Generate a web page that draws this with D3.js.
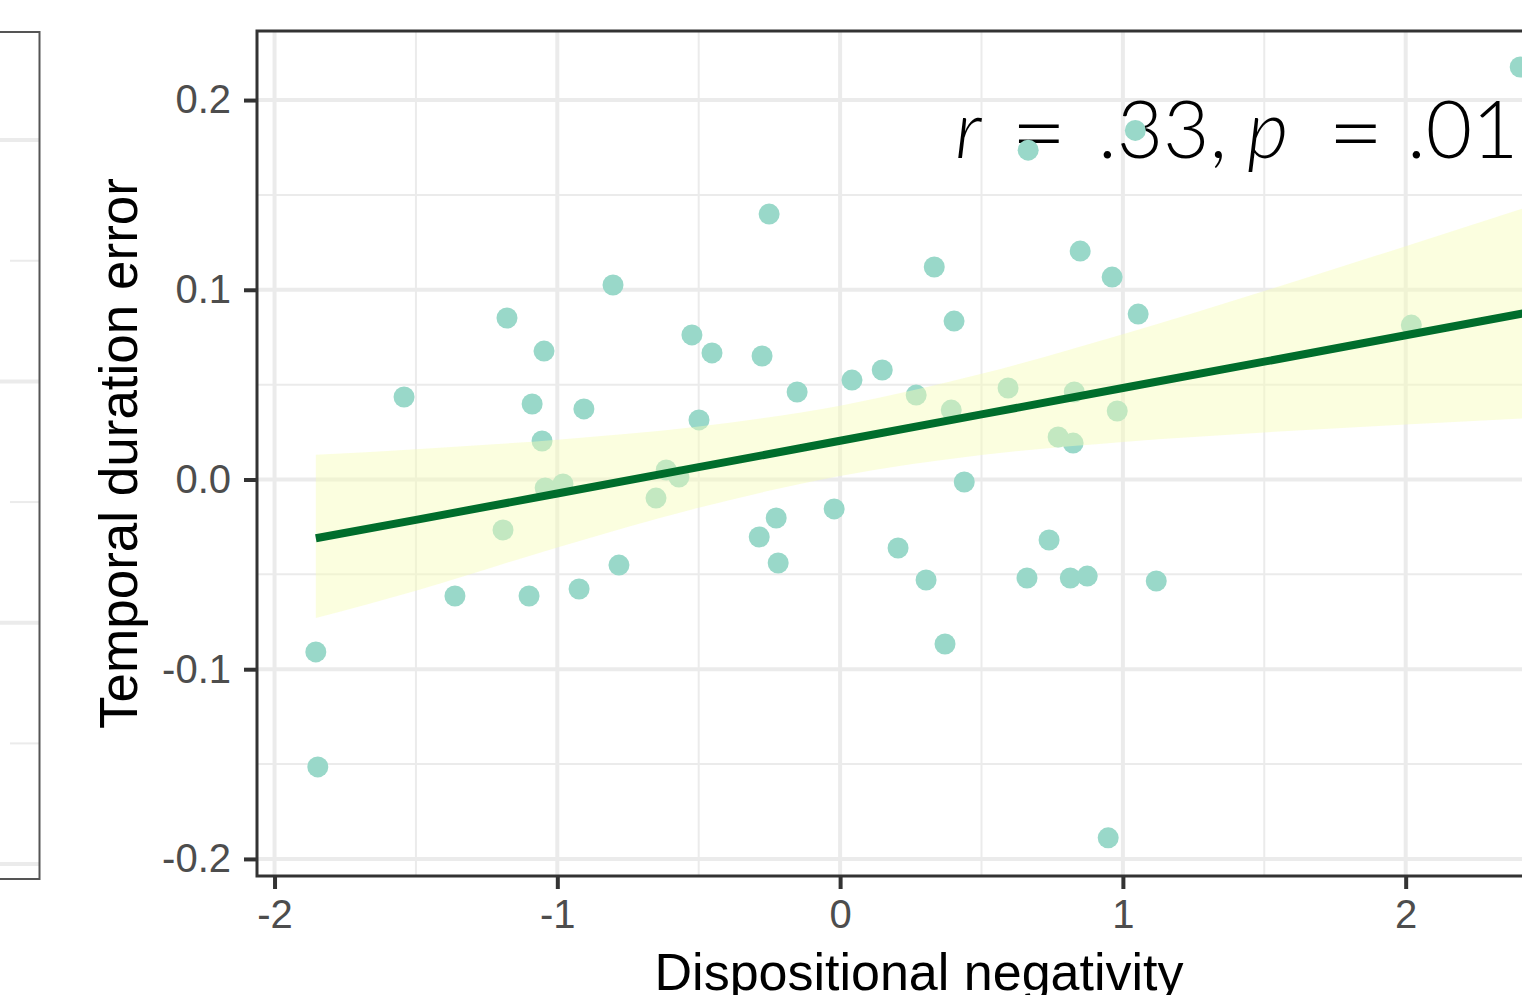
<!DOCTYPE html>
<html>
<head>
<meta charset="utf-8">
<script src="https://cdn.jsdelivr.net/npm/d3@7"></script>
<style>
  body { margin: 0; overflow: hidden; background: #fff; }
  svg { display: block; }
</style>
</head>
<body>
<div id="chart"></div>
<script>
// scatter data: dispositional negativity (x) vs temporal duration error (y)
const negX = [2.405, 0.665, 1.044, -0.251, 0.333, 0.849, 0.962, -0.803, -1.178, 0.403,
  1.054, 2.02, -1.047, -0.524, -0.453, -0.276, -1.542, -1.089, -0.906, -0.152,
  0.042, 0.149, -0.499, -1.054, 0.269, 0.393, 0.594, 0.828, 0.98, 0.771,
  0.824, -1.043, -0.98, -0.615, -0.57, -0.651, -1.192, -0.021, 0.439, -0.226,
  -0.286, -0.219, -0.782, 0.205, 0.739, 0.304, 0.661, 0.814, 0.874, 1.118,
  -1.362, -1.1, -0.923, 0.371, -1.854, -1.847, 0.948];
const errY = [0.2174, 0.1736, 0.184, 0.1399, 0.112, 0.1204, 0.1067, 0.1025, 0.0851, 0.0835,
  0.0872, 0.0814, 0.0677, 0.0762, 0.0667, 0.0651, 0.0435, 0.0398, 0.0372, 0.0461,
  0.0524, 0.0577, 0.0314, 0.0203, 0.0445, 0.0366, 0.0482, 0.0461, 0.0361, 0.0224,
  0.0192, -0.0045, -0.0024, 0.005, 0.0013, -0.0098, -0.0266, -0.0155, -0.0013, -0.0203,
  -0.0303, -0.044, -0.0451, -0.0361, -0.0319, -0.053, -0.0519, -0.0519, -0.0509, -0.0535,
  -0.0614, -0.0614, -0.0577, -0.0867, -0.0909, -0.1515, -0.1889];

// fitted line and confidence band
const fitX  = [-1.854, -1.5, -1, -0.5, 0, 0.5, 1, 1.5, 2, 2.45];
const fitY  = [-0.031, -0.0213, -0.0074, 0.0065, 0.0204, 0.0343, 0.0482, 0.0621, 0.076, 0.0885];
const fitLo = [-0.073, -0.0586, -0.0358, -0.0149, 0.0019, 0.0129, 0.0198, 0.0248, 0.029, 0.0325];
const fitHi = [0.013, 0.016, 0.021, 0.0279, 0.0389, 0.0557, 0.0766, 0.0994, 0.123, 0.1445];

const xTicks = [-2, -1, 0, 1, 2];
const xMinor = [-1.5, -0.5, 0.5, 1.5, 2.5];
const yTicks = [-0.2, -0.1, 0.0, 0.1, 0.2];
const yMinor = [-0.15, -0.05, 0.05, 0.15];

// neighbouring panel (only its right edge shows)
const leftMajor = [0, 1, 2, 3];
const leftMinor = [0.5, 1.5, 2.5];

const statParts = [
  { t: "r", italic: true, dx: 0, size: 80, dy: 0 },
  { t: "=", italic: false, dx: 56, size: 96, dy: 8 },
  { t: ".33,", italic: false, dx: 143, size: 80, dy: 0 },
  { t: "p", italic: true, dx: 292, size: 80, dy: 0 },
  { t: "=", italic: false, dx: 373, size: 96, dy: 8 },
  { t: ".01", italic: false, dx: 452, size: 80, dy: 0 }
];

const W = 1522, H = 995;
const panel = { left: 257, right: 1581, top: 31, bottom: 876 };
const font = "'Liberation Sans', Arial, Helvetica, sans-serif";

const svg = d3.select("#chart")
  .append("svg")
  .attr("width", W)
  .attr("height", H);

// ---- left panel fragment ----
const yl = d3.scaleLinear().domain([-0.062, 3.448]).range([879, 32]);
const lp = svg.append("g");
lp.selectAll(null).data(leftMinor).enter().append("line")
  .attr("x1", 10).attr("x2", 39)
  .attr("y1", d => yl(d)).attr("y2", d => yl(d))
  .attr("stroke", "#ebebeb").attr("stroke-width", 2);
lp.selectAll(null).data(leftMajor).enter().append("line")
  .attr("x1", 0).attr("x2", 39)
  .attr("y1", d => yl(d)).attr("y2", d => yl(d))
  .attr("stroke", "#ebebeb").attr("stroke-width", 4);
lp.append("rect")
  .attr("x", -20).attr("y", yl.range()[1])
  .attr("width", 59.5).attr("height", yl.range()[0] - yl.range()[1])
  .attr("fill", "none").attr("stroke", "#555").attr("stroke-width", 2);

// ---- main panel ----
const x = d3.scaleLinear().domain([-2.062, 2.62]).range([panel.left, panel.right]);
const y = d3.scaleLinear().domain([-0.209, 0.2364]).range([panel.bottom, panel.top]);

svg.append("clipPath").attr("id", "clip")
  .append("rect")
  .attr("x", panel.left).attr("y", panel.top)
  .attr("width", panel.right - panel.left).attr("height", panel.bottom - panel.top);

const g = svg.append("g").attr("clip-path", "url(#clip)");

// grid
g.selectAll(null).data(yMinor).enter().append("line")
  .attr("x1", panel.left).attr("x2", panel.right)
  .attr("y1", d => y(d)).attr("y2", d => y(d))
  .attr("stroke", "#ebebeb").attr("stroke-width", 2);
g.selectAll(null).data(xMinor).enter().append("line")
  .attr("y1", panel.top).attr("y2", panel.bottom)
  .attr("x1", d => x(d)).attr("x2", d => x(d))
  .attr("stroke", "#ebebeb").attr("stroke-width", 2);
g.selectAll(null).data(yTicks).enter().append("line")
  .attr("x1", panel.left).attr("x2", panel.right)
  .attr("y1", d => y(d)).attr("y2", d => y(d))
  .attr("stroke", "#ebebeb").attr("stroke-width", 4);
g.selectAll(null).data(xTicks).enter().append("line")
  .attr("y1", panel.top).attr("y2", panel.bottom)
  .attr("x1", d => x(d)).attr("x2", d => x(d))
  .attr("stroke", "#ebebeb").attr("stroke-width", 4);

// r / p annotation (sits under the points)
const stat = g.append("text")
  .attr("font-family", "Lato, 'Open Sans', sans-serif")
  .attr("font-weight", 300)
  .attr("fill", "#000");
stat.selectAll("tspan").data(statParts).enter().append("tspan")
  .attr("x", d => 955 + d.dx)
  .attr("y", d => 158 + d.dy)
  .attr("font-size", d => d.size)
  .attr("font-style", d => d.italic ? "italic" : "normal")
  .text(d => d.t);

// points
const pts = negX.map((v, i) => ({ x: v, y: errY[i] }));
g.selectAll(null).data(pts).enter().append("circle")
  .attr("cx", d => x(d.x))
  .attr("cy", d => y(d.y))
  .attr("r", 10.5)
  .attr("fill", "#99d8c9");

// confidence ribbon
const band = fitX.map((v, i) => ({ x: v, lo: fitLo[i], hi: fitHi[i], y: fitY[i] }));
g.append("path")
  .datum(band)
  .attr("d", d3.area()
    .x(d => x(d.x))
    .y0(d => y(d.lo))
    .y1(d => y(d.hi))
    .curve(d3.curveMonotoneX))
  .attr("fill", "#f7fcb9")
  .attr("fill-opacity", 0.45);

// regression line
g.append("path")
  .datum(band)
  .attr("d", d3.line().x(d => x(d.x)).y(d => y(d.y)))
  .attr("fill", "none")
  .attr("stroke", "#006d2c")
  .attr("stroke-width", 8);

// panel border
svg.append("rect")
  .attr("x", panel.left).attr("y", panel.top)
  .attr("width", panel.right - panel.left).attr("height", panel.bottom - panel.top)
  .attr("fill", "none").attr("stroke", "#333").attr("stroke-width", 3);

// axes
const yAxis = svg.append("g")
  .attr("transform", "translate(" + panel.left + ",0)")
  .call(d3.axisLeft(y).tickValues(yTicks).tickSize(13).tickPadding(13)
    .tickFormat(d => d.toFixed(1)));
const xAxis = svg.append("g")
  .attr("transform", "translate(0," + panel.bottom + ")")
  .call(d3.axisBottom(x).tickValues(xTicks).tickSize(13).tickPadding(11)
    .tickFormat(d => String(d)));

[yAxis, xAxis].forEach(a => {
  a.select(".domain").remove();
  a.selectAll(".tick line").attr("stroke", "#333").attr("stroke-width", 4);
  a.selectAll(".tick text")
    .attr("fill", "#4d4d4d")
    .attr("font-family", font)
    .attr("font-size", 40);
});

// axis titles
svg.append("text")
  .attr("transform", "translate(137," + (panel.top + panel.bottom) / 2 + ") rotate(-90)")
  .attr("text-anchor", "middle")
  .attr("font-family", font)
  .attr("font-size", 53)
  .attr("fill", "#000")
  .text("Temporal duration error");

svg.append("text")
  .attr("x", (panel.left + panel.right) / 2)
  .attr("y", 990)
  .attr("text-anchor", "middle")
  .attr("font-family", font)
  .attr("font-size", 52)
  .attr("fill", "#000")
  .text("Dispositional negativity");
</script>
</body>
</html>
